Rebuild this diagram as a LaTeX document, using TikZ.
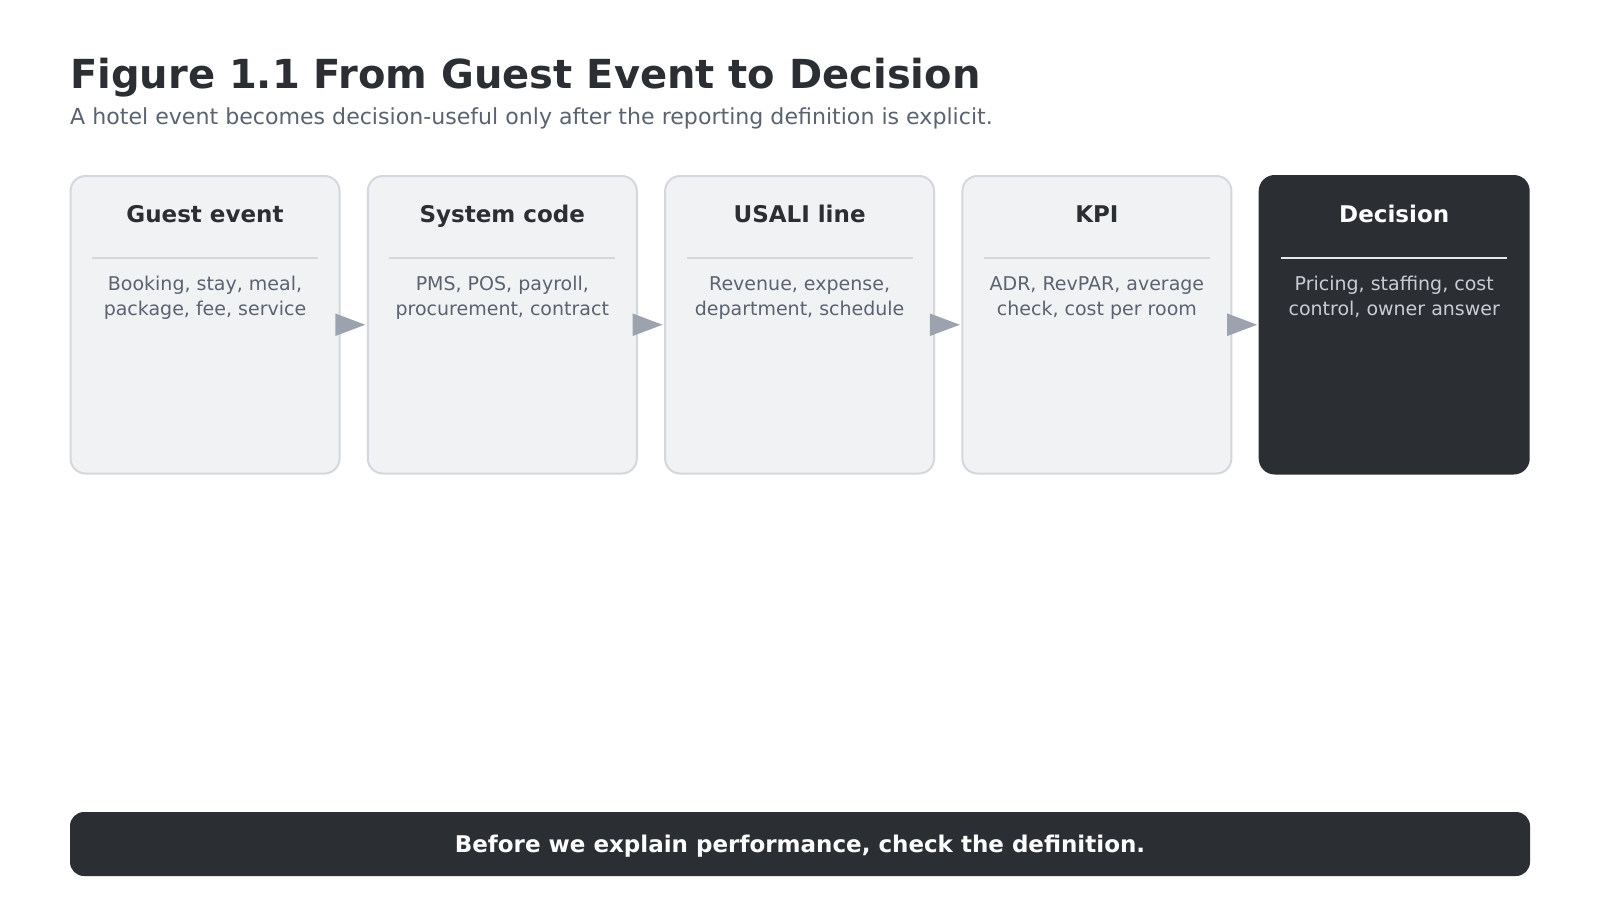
\documentclass[tikz,border=0pt]{standalone}
\usepackage{fontspec}
\setmainfont{DejaVu Sans}
\usetikzlibrary{arrows.meta}
\definecolor{ink}{HTML}{2B2E33}
\definecolor{muted}{HTML}{5B6270}
\definecolor{cardfill}{HTML}{F1F2F4}
\definecolor{cardline}{HTML}{D4D7DC}
\definecolor{arrowgray}{HTML}{9CA3AF}
\definecolor{darkbody}{HTML}{C9CDD3}
\definecolor{darkrule}{HTML}{E5E7EB}
\tikzset{
  card/.style={draw=cardline, line width=2pt, fill=cardfill, rounded corners=15pt,
    minimum width=269pt, minimum height=297.5pt, inner sep=0pt, outer sep=0pt, anchor=north west},
  darkcard/.style={card, draw=ink, fill=ink},
  cardtitle/.style={anchor=base, font=\fontsize{23}{27}\selectfont\bfseries, text=ink, inner sep=0pt},
  cardbody/.style={anchor=north, font=\fontsize{19}{25}\selectfont, text=muted, align=center, inner sep=0pt},
  rulel/.style={draw=cardline, line width=1.5pt},
  flow/.style={draw=arrowgray, line width=2pt, -{Triangle[length=30pt,width=22pt]}, arrowgray, shorten >=2.5pt},
}
\begin{document}
\begin{tikzpicture}[x=1pt,y=-1pt]
\useasboundingbox[fill=white] (0,0) rectangle (1600,900);
\node[anchor=base west, inner sep=0pt, font=\fontsize{40}{46}\selectfont\bfseries, text=ink] (title) at (70,88.5) {Figure 1.1 From Guest Event to Decision};
\node[anchor=base west, inner sep=0pt, font=\fontsize{22.1}{26}\selectfont, text=muted] (sub) at (70,124) {A hotel event becomes decision-useful only after the reporting definition is explicit.};
% cards
\node[card] (b1) at (70.5,176) {};
\node[card] (b2) at (367.8,176) {};
\node[card] (b3) at (665.1,176) {};
\node[card] (b4) at (962.4,176) {};
\node[darkcard] (b5) at (1259.7,176) {};
% titles
\node[cardtitle] (t1) at (205,222.5) {Guest event};
\node[cardtitle] (t2) at (502.3,222.5) {System code};
\node[cardtitle] (t3) at (799.6,222.5) {USALI line};
\node[cardtitle] (t4) at (1096.9,222.5) {KPI};
\node[cardtitle, text=white] (t5) at (1394.2,222.5) {Decision};
% rules
\draw[rulel] (92,258) -- (318,258);
\draw[rulel] (389.3,258) -- (615.3,258);
\draw[rulel] (686.6,258) -- (912.6,258);
\draw[rulel] (983.9,258) -- (1209.9,258);
\draw[rulel, draw=darkrule] (1281.2,258) -- (1507.2,258);
% bodies
\node[cardbody] (d1) at (205,276) {Booking, stay, meal,\\package, fee, service};
\node[cardbody] (d2) at (502.3,276) {PMS, POS, payroll,\\procurement, contract};
\node[cardbody] (d3) at (799.6,276) {Revenue, expense,\\department, schedule};
\node[cardbody] (d4) at (1096.9,276) {ADR, RevPAR, average\\check, cost per room};
\node[cardbody, text=darkbody] (d5) at (1394.2,276) {Pricing, staffing, cost\\control, owner answer};
% arrows
\draw[flow] (b1.east) -- (b2.west);
\draw[flow] (b2.east) -- (b3.west);
\draw[flow] (b3.east) -- (b4.west);
\draw[flow] (b4.east) -- (b5.west);
% bottom bar
\node[fill=ink, rounded corners=14pt, minimum width=1460pt, minimum height=64pt, inner sep=0pt, outer sep=0pt, anchor=north west] (bar) at (70,812) {};
\node[font=\fontsize{23}{27}\selectfont\bfseries, text=white, inner sep=0pt] (bartext) at ([yshift=-2pt]bar.center) {Before we explain performance, check the definition.};
\end{tikzpicture}
\end{document}
